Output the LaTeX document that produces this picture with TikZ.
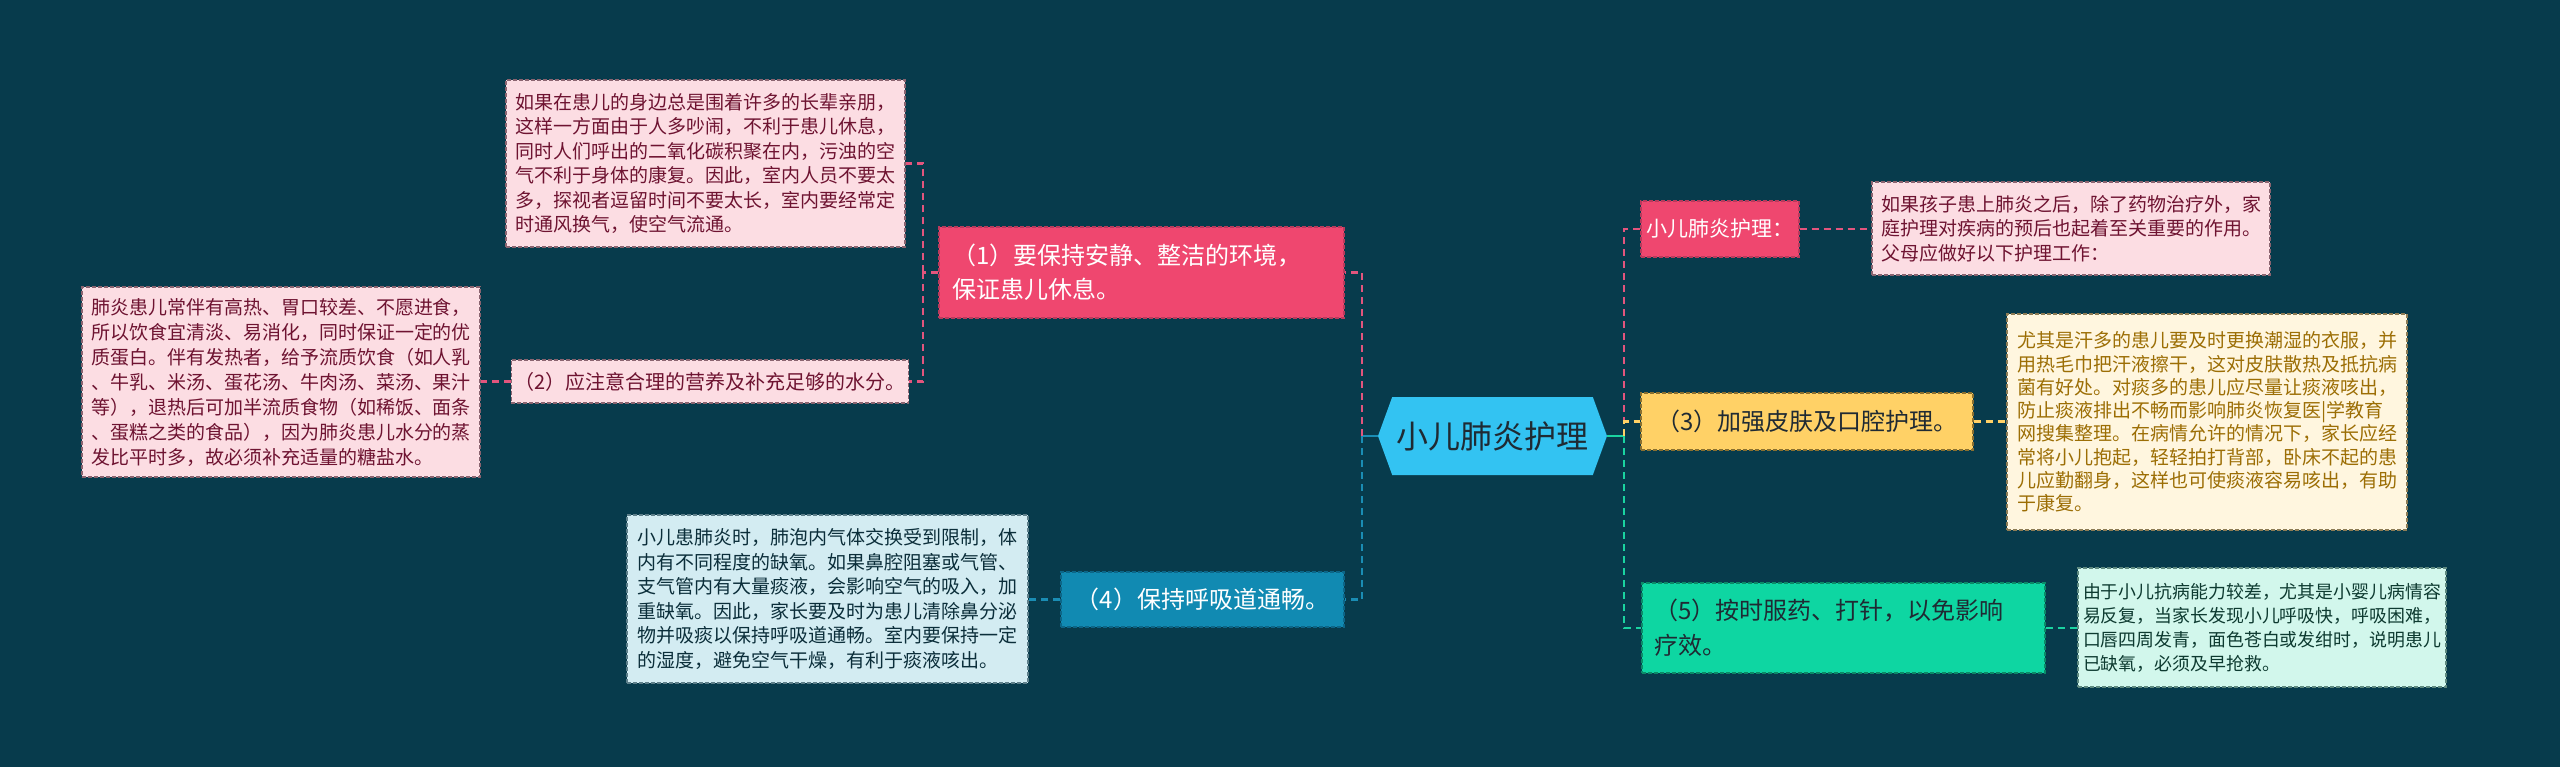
\documentclass[tikz,border=0pt]{standalone}
\usepackage{fontspec}
\setmainfont{Noto Sans CJK SC}
\usetikzlibrary{shapes.symbols}
\definecolor{bg}{HTML}{073B4C}
\definecolor{pk}{HTML}{EF476F}
\definecolor{pkline}{HTML}{E2557D}
\definecolor{pklight}{HTML}{FCDDE3}
\definecolor{pkborder}{HTML}{8A6470}
\definecolor{pkdark}{HTML}{B93A5C}
\definecolor{maroon}{HTML}{6E1331}
\definecolor{bl}{HTML}{118AB2}
\definecolor{blline}{HTML}{1A8DB4}
\definecolor{bllight}{HTML}{D3ECF2}
\definecolor{blborder}{HTML}{5D7F8A}
\definecolor{bldark}{HTML}{0C6688}
\definecolor{bltext}{HTML}{0B2E3A}
\definecolor{ye}{HTML}{FFD166}
\definecolor{yelight}{HTML}{FFF6DF}
\definecolor{yeborder}{HTML}{8D7C55}
\definecolor{yedark}{HTML}{8A7030}
\definecolor{yetext}{HTML}{9C6E05}
\definecolor{gr}{HTML}{0ED6A2}
\definecolor{grline}{HTML}{1AD3A0}
\definecolor{grlight}{HTML}{D2F7EC}
\definecolor{grborder}{HTML}{5F8A80}
\definecolor{grdark}{HTML}{0B8A68}
\definecolor{grtext}{HTML}{0D3A30}
\definecolor{hex}{HTML}{33C3F2}
\definecolor{darktext}{HTML}{1F2A33}
\newcommand\fsz[2]{\fontsize{#1}{#2}\selectfont}
\tikzset{
  leaf/.style={rectangle, align=left, inner ysep=0pt, dash pattern=on 4pt off 2pt, line width=1.2pt, font=\fsz{19}{24.5}, text width=380pt},
  cbox/.style={rectangle, align=left, inner ysep=0pt, dash pattern=on 4pt off 2pt, line width=1.2pt, font=\fsz{24}{34}},
  conn/.style={line width=2.5pt, dash pattern=on 7pt off 5pt},
}
\begin{document}
\begin{tikzpicture}[x=1pt,y=-1pt]
\fill[bg] (0,0) rectangle (2560,767);
\useasboundingbox (0,0) rectangle (2560,767);

% center
\node[signal, signal to=west and east, signal pointer angle=140, fill=hex, minimum width=229pt, minimum height=78pt, inner sep=0pt, text=darktext, font=\fsz{32}{36}] (C) at (1492.5,436) {小儿肺炎护理};

% left branch
\node[cbox, fill=pk, draw=pkdark, text=white, text width=379pt, inner xsep=13pt, minimum height=91pt] (B1) at (1141.5,272.5) {（1）要保持安静、整洁的环境，\\保证患儿休息。};
\node[leaf, fill=pklight, draw=pkborder, text=maroon, inner xsep=9.5pt, minimum height=167pt] (T1) at (705.5,163.5) {如果在患儿的身边总是围着许多的长辈亲朋，\\这样一方面由于人多吵闹，不利于患儿休息，\\同时人们呼出的二氧化碳积聚在内，污浊的空\\气不利于身体的康复。因此，室内人员不要太\\多，探视者逗留时间不要太长，室内要经常定\\时通风换气，使空气流通。};
\node[rectangle, align=center, inner ysep=0pt, dash pattern=on 4pt off 2pt, line width=1.2pt, fill=pklight, draw=pkborder, text=maroon, font=\fsz{20}{24}, minimum width=390pt, minimum height=43pt] (B2) at (710,381.5) {（2）应注意合理的营养及补充足够的水分。};
\node[leaf, fill=pklight, draw=pkborder, text=maroon, inner xsep=9pt, minimum height=190pt, font=\fsz{19}{25}] (T2) at (281,382) {肺炎患儿常伴有高热、胃口较差、不愿进食，\\所以饮食宜清淡、易消化，同时保证一定的优\\质蛋白。伴有发热者，给予流质饮食（如人乳\\、牛乳、米汤、蛋花汤、牛肉汤、菜汤、果汁\\等），退热后可加半流质食物（如稀饭、面条\\、蛋糕之类的食品），因为肺炎患儿水分的蒸\\发比平时多，故必须补充适量的糖盐水。};
\node[cbox, align=center, fill=bl, draw=bldark, text=white, minimum width=283pt, minimum height=55pt] (B4) at (1202.5,599.5) {（4）保持呼吸道通畅。};
\node[leaf, fill=bllight, draw=blborder, text=bltext, inner xsep=10.5pt, minimum height=168pt] (T4) at (827.5,599) {小儿患肺炎时，肺泡内气体交换受到限制，体\\内有不同程度的缺氧。如果鼻腔阻塞或气管、\\支气管内有大量痰液，会影响空气的吸入，加\\重缺氧。因此，家长要及时为患儿清除鼻分泌\\物并吸痰以保持呼吸道通畅。室内要保持一定\\的湿度，避免空气干燥，有利于痰液咳出。};

% right branch
\node[cbox, align=center, fill=pk, draw=pkdark, text=white, minimum width=158pt, minimum height=56pt, font=\fsz{21}{26}] (R0) at (1720,229) {小儿肺炎护理：};
\node[leaf, fill=pklight, draw=pkborder, text=maroon, inner xsep=9pt, minimum height=93pt] (TR0) at (2071,228.5) {如果孩子患上肺炎之后，除了药物治疗外，家\\庭护理对疾病的预后也起着至关重要的作用。\\父母应做好以下护理工作：};
\node[cbox, align=center, fill=ye, draw=yedark, text=darktext, minimum width=332pt, minimum height=57pt] (B3) at (1807,421.5) {（3）加强皮肤及口腔护理。};
\node[leaf, fill=yelight, draw=yeborder, text=yetext, inner xsep=10pt, minimum height=216pt, font=\fsz{19}{23.3}] (T3) at (2207,422) {尤其是汗多的患儿要及时更换潮湿的衣服，并\\用热毛巾把汗液擦干，这对皮肤散热及抵抗病\\菌有好处。对痰多的患儿应尽量让痰液咳出，\\防止痰液排出不畅而影响肺炎恢复医|学教育\\网搜集整理。在病情允许的情况下，家长应经\\常将小儿抱起，轻轻拍打背部，卧床不起的患\\儿应勤翻身，这样也可使痰液容易咳出，有助\\于康复。};
\node[cbox, fill=gr, draw=grdark, text=darktext, text width=379pt, inner xsep=12pt, minimum height=90pt, font=\fsz{24}{35}] (B5) at (1843.5,628) {（5）按时服药、打针，以免影响\\疗效。};
\node[leaf, fill=grlight, draw=grborder, text=grtext, text width=358pt, inner xsep=5pt, minimum height=119pt, font=\fsz{17.9}{24}] (T5) at (2262,627.5) {由于小儿抗病能力较差，尤其是小婴儿病情容\\易反复，当家长发现小儿呼吸快，呼吸困难，\\口唇四周发青，面色苍白或发绀时，说明患儿\\已缺氧，必须及早抢救。};

% junctions
\coordinate (JL) at (1362,436);
\coordinate (JR) at (1624,436);
\coordinate (J2) at (923,272.5);

% connectors left
\draw[line width=2.5pt, blline] (C.west) -- (JL);
\draw[conn, pkline] (JL) |- (B1.east);
\draw[conn, blline] (JL) |- (B4.east);
\draw[conn, pkline] (B1.west) -- (J2);
\draw[conn, pkline] (J2) |- (T1.east);
\draw[conn, pkline] (J2) |- (B2.east);
\draw[conn, pkline] (B2.west) -- (B2.west -| T2.east);
\draw[conn, blline] (B4.west) -- (B4.west -| T4.east);

% connectors right
\draw[line width=2.5pt, grline] (C.east) -- (JR);
\draw[conn, pkline] (JR) |- (R0.west);
\draw[conn, ye] (JR) |- (B3.west);
\draw[conn, grline] (JR) |- (B5.west);
\draw[conn, pkline] (R0.east) -- (R0.east -| TR0.west);
\draw[conn, ye] (B3.east) -- (B3.east -| T3.west);
\draw[conn, grline] (B5.east) -- (B5.east -| T5.west);
\end{tikzpicture}
\end{document}
